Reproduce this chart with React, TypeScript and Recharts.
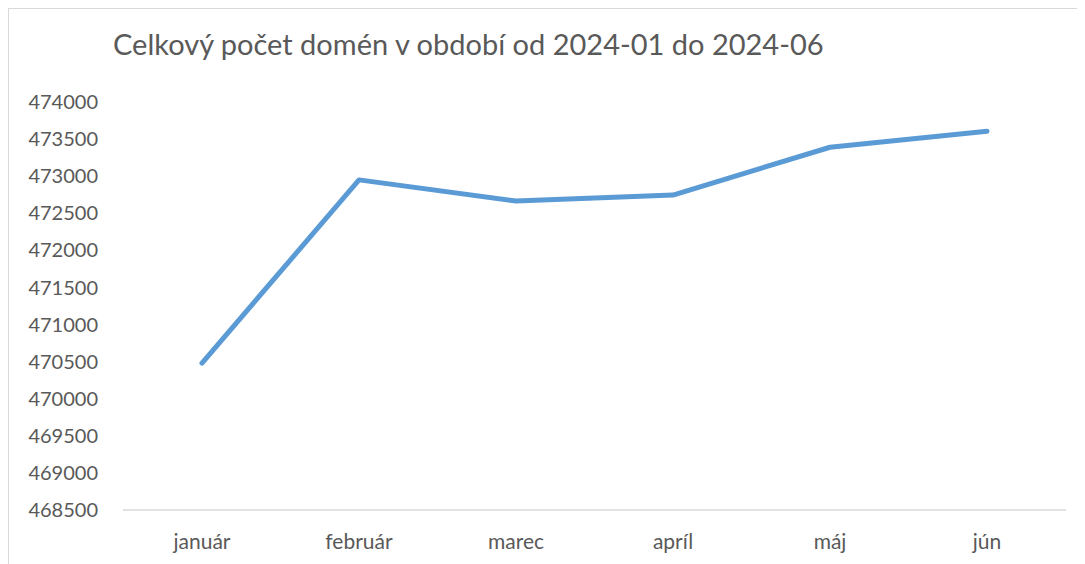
import { LineChart, Line, XAxis, YAxis } from "recharts";

const months = ["január", "február", "marec", "apríl", "máj", "jún"];
const domainCounts = [470480, 472950, 472665, 472745, 473390, 473605];
const yTicks = [468500, 469000, 469500, 470000, 470500, 471000, 471500, 472000, 472500, 473000, 473500, 474000];

const data = months.map((m, i) => ({ mesiac: m, pocet: domainCounts[i] }));

const font = "Lato, 'Open Sans', sans-serif";
const textColor = "#595959";

export default function App() {
  return (
    <div
      style={{
        position: "relative",
        width: 1076,
        height: 555,
        borderTop: "1px solid #d9d9d9",
        borderLeft: "1px solid #d9d9d9",
        background: "#fff",
        fontFamily: font,
      }}
    >
      <div
        style={{
          position: "absolute",
          left: 104,
          top: 20,
          fontSize: 29,
          lineHeight: 1,
          color: textColor,
          whiteSpace: "nowrap",
        }}
      >
        Celkový počet domén v období od 2024-01 do 2024-06
      </div>
      <LineChart width={1076} height={555} data={data} margin={{ top: 93, right: 19, bottom: 18, left: 34 }}>
        <XAxis
          dataKey="mesiac"
          padding={{ left: 79, right: 79 }}
          tickLine={false}
          tickSize={0}
          tickMargin={24}
          height={36}
          axisLine={{ stroke: "#d9d9d9", strokeWidth: 1.5 }}
          tick={{ fill: textColor, fontSize: 21, fontFamily: font }}
        />
        <YAxis
          domain={[468500, 474000]}
          ticks={yTicks}
          interval={0}
          width={80}
          tickLine={false}
          tickSize={0}
          tickMargin={25}
          axisLine={false}
          tick={{ fill: textColor, fontSize: 20, fontFamily: font }}
        />
        <Line
          type="linear"
          dataKey="pocet"
          stroke="#5b9bd5"
          strokeWidth={5}
          strokeLinecap="round"
          strokeLinejoin="round"
          dot={false}
          activeDot={false}
          isAnimationActive={false}
        />
      </LineChart>
    </div>
  );
}
